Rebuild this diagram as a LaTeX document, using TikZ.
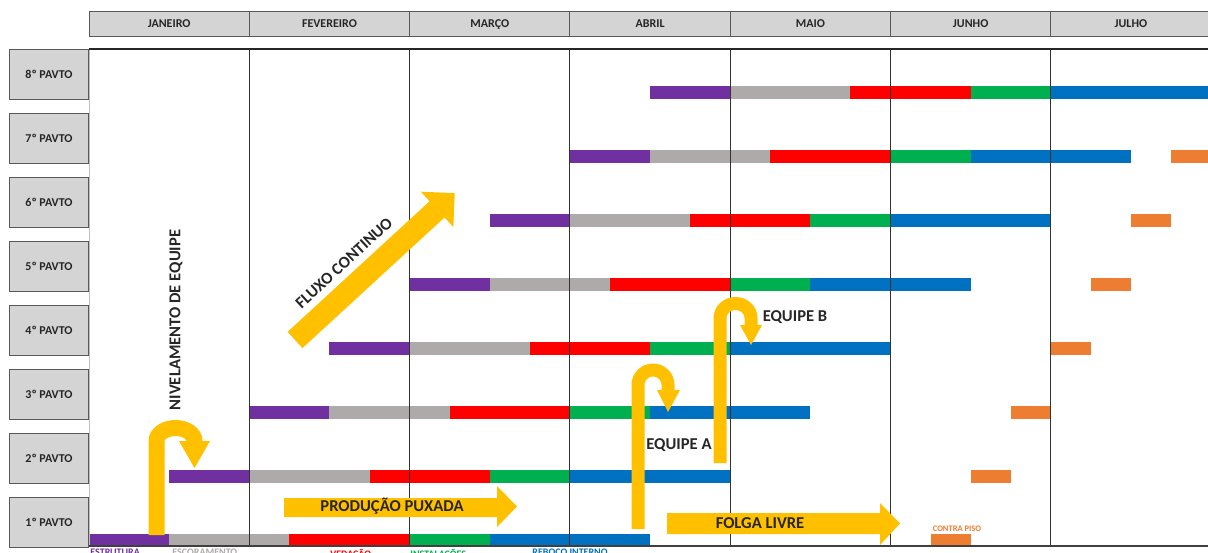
\documentclass[tikz,border=0pt]{standalone}
\usepackage{fontspec}
\setmainfont{Carlito}

\definecolor{estrutura}{HTML}{7030A0}
\definecolor{escoramento}{HTML}{AEAAAA}
\definecolor{vedacao}{HTML}{FF0000}
\definecolor{instalacoes}{HTML}{00B050}
\definecolor{reboco}{HTML}{0070C0}
\definecolor{contrapiso}{HTML}{ED7D31}
\definecolor{seta}{HTML}{FFC000}
\definecolor{cinzacab}{HTML}{D4D4D4}
\definecolor{texto}{HTML}{262626}

\tikzset{
  cabecalho/.style={draw=black!65, line width=0.5pt, fill=cinzacab, inner sep=0pt,
    minimum width=80.15pt, minimum height=12.5pt, text=texto,
    text height=4.2pt, text depth=0pt,
    font=\bfseries\fontsize{6}{7}\selectfont},
  pavimento/.style={draw=black!65, line width=0.5pt, fill=cinzacab, inner sep=0pt,
    minimum width=39.8pt, minimum height=25pt, text=texto,
    text height=4.2pt, text depth=0pt,
    font=\bfseries\fontsize{6}{7}\selectfont},
  rotulo/.style={text=texto, inner sep=0pt, font=\bfseries\fontsize{8.3}{9}\selectfont},
  legenda/.style={anchor=north west, inner sep=0pt, font=\bfseries\fontsize{5}{6}\selectfont},
}

\begin{document}
\begin{tikzpicture}[x=0.5pt,y=-0.5pt]

  \def\xmin{89}
  \def\xmax{1208}
  \def\ytop{49}
  \def\ybot{546}
  \def\mes{160.3}
  \def\meio{80.15}

  \useasboundingbox (0,0) rectangle (1208,552);

  % bars
  \foreach \r [evaluate=\r as \yb using {99+(8-\r)*64},
               evaluate=\r as \s using {\r-1}] in {1,...,8} {
    \foreach \cor/\a/\b in {estrutura/0/1,escoramento/1/2.5,vedacao/2.5/4,instalacoes/4/5,reboco/5/7}
      \fill[\cor] ({\xmin+(\s+\a)*\meio},{\yb-13.3}) rectangle ({\xmin+(\s+\b)*\meio},\yb);
    \fill[contrapiso] ({\xmin+(10.5+\s/2)*\meio},{\yb-13.3}) rectangle ({\xmin+(11+\s/2)*\meio},\yb);
  }

  % grid
  \draw[black!25, line width=0.5pt] (\xmin,\ytop) -- (\xmin,\ybot);
  \foreach \i in {1,...,6}
    \draw[black!80, line width=0.5pt] ({\xmin+\i*\mes},\ytop) -- ({\xmin+\i*\mes},\ybot);
  \draw[black!85, line width=0.9pt] (\xmin,\ytop) -- (\xmax,\ytop);
  \draw[black!75, line width=0.6pt] (\xmin,\ybot) -- (\xmax,\ybot);

  % months and floors
  \foreach \m [count=\i from 0] in {JANEIRO,FEVEREIRO,MARÇO,ABRIL,MAIO,JUNHO,JULHO}
    \node[cabecalho] (mes\i) at ({\xmin+(\i+0.5)*\mes},23.5) {\m};
  \foreach \r in {1,...,8}
    \node[pavimento] (pav\r) at (49,{74+(8-\r)*64}) {{\r}º PAVTO};

  % legend (cut by the page edge)
  \node[legenda, text=estrutura] (leg1) at (90,548.5) {ESTRUTURA};
  \node[legenda, text=escoramento] (leg2) at (172,548.5) {ESCORAMENTO};
  \node[legenda, text=vedacao] (leg3) at (330,548.5) {VEDAÇÃO};
  \node[legenda, text=instalacoes] (leg4) at (410,548.5) {INSTALAÇÕES};
  \node[legenda, text=reboco] (leg5) at (532,548.5) {REBOCO INTERNO};
  \node[text=contrapiso, inner sep=0pt, font=\bfseries\fontsize{4.25}{5}\selectfont] (contra) at (957,529) {CONTRA PISO};

  % producao puxada and folga livre
  \fill[seta] (284,498) -- (497,498) -- (497,486) -- (517,506.5) -- (497,527) -- (497,517) -- (284,517) -- cycle;
  \node[rotulo] (puxada) at (392,506.5) {PRODUÇÃO PUXADA};
  \fill[seta] (667,513) -- (880,513) -- (880,503) -- (900,523.5) -- (880,545) -- (880,534) -- (667,534) -- cycle;
  \node[rotulo] (folga) at (760,523) {FOLGA LIVRE};

  % fluxo continuo
  \fill[seta, shift={(295,340)}, rotate=42.6] (0,-11) -- (193,-11) -- (193,-24) -- (217,0) -- (193,24) -- (193,11) -- (0,11) -- cycle;
  \node[rotulo, rotate=42.6] (fluxo) at (344,263) {FLUXO CONTINUO};

  % nivelamento de equipe
  \draw[seta, line width=8pt] (156.5,535) -- (156.5,441) arc[start angle=180, end angle=0, x radius=9.5pt, y radius=6.5pt] -- (194.5,442);
  \fill[seta] (179,441) -- (210,441) -- (194.5,468) -- cycle;
  \node[rotulo, rotate=90] (nivelamento) at (176,320) {NIVELAMENTO DE EQUIPE};

  % equipe a and equipe b
  \draw[seta, line width=6.5pt] (638,529) -- (638,385) arc[start angle=180, end angle=0, x radius=7.5pt, y radius=7.5pt] -- (668,391);
  \fill[seta] (657,390) -- (680,390) -- (668,412) -- cycle;
  \node[rotulo] (equipeA) at (679,445) {EQUIPE A};
  \draw[seta, line width=6.5pt] (720,463) -- (720,318) arc[start angle=180, end angle=0, x radius=7.75pt, y radius=7.25pt] -- (751,326);
  \fill[seta] (740,325) -- (762,325) -- (751,345) -- cycle;
  \node[rotulo] (equipeB) at (795,317) {EQUIPE B};

\end{tikzpicture}
\end{document}
